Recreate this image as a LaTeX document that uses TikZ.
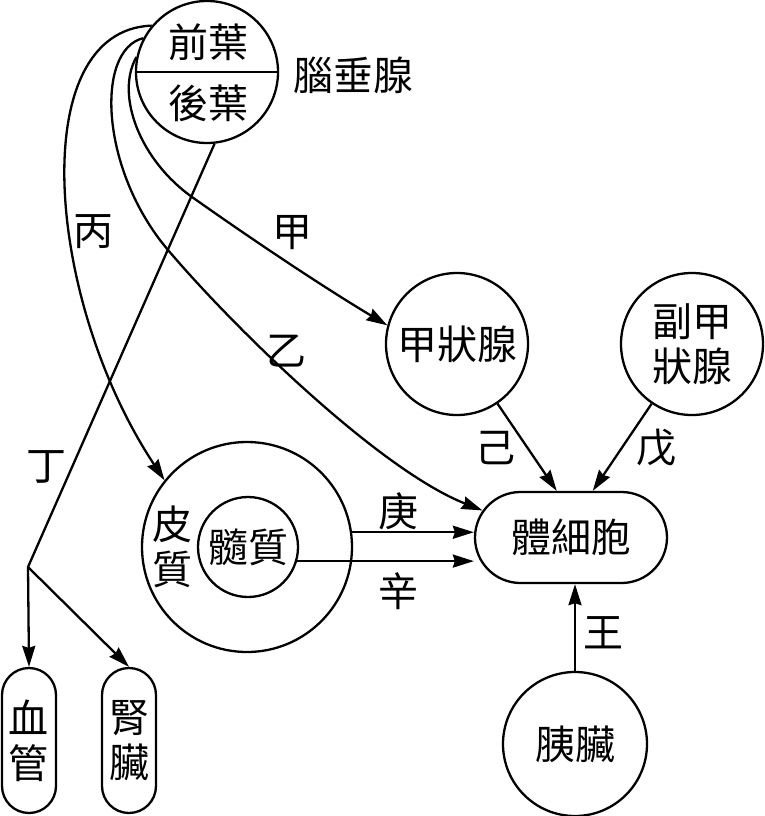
\documentclass[tikz,border=0pt]{standalone}
\usepackage{fontspec}
\newfontfamily\cjk{Noto Sans CJK TC}
\usetikzlibrary{arrows.meta,shapes.misc}
\begin{document}
\begin{tikzpicture}[x=1pt,y=-1pt,
  every node/.style={font=\cjk\fontsize{40}{45}\selectfont, inner sep=0pt},
  line width=2.3pt,
  organ/.style={draw, circle, minimum size=142pt, align=center},
  pill/.style={draw, rounded corners=27pt, minimum width=54pt, minimum height=145pt, align=center},
  arr/.style={-{Stealth[length=21pt,width=13pt,inset=2pt]}}]
\useasboundingbox (0,0) rectangle (764,816);
% nodes
\node[organ] (pit) at (207,72) {};
\draw (pit.west) -- (pit.east);
\node (ant) at (208,42) {前葉};
\node (post) at (208,103) {後葉};
\node (pitlbl) at (353,75) {腦垂腺};
\node[organ] (thy) at (457,344) {甲狀腺};
\node[organ] (para) at (692,344) {副甲\\狀腺};
\node[draw, rounded rectangle, minimum width=192pt, minimum height=91pt] (cell) at (571,537.5) {體細胞};
\node[draw, circle, minimum size=210pt] (adr) at (247,547) {};
\node[draw, circle, minimum size=100pt] (med) at (248,547) {髓質};
\node[align=center] (cortex) at (172,547) {皮\\質};
\node[organ, minimum size=144pt] (panc) at (575,744) {胰臟};
\node[pill] (vessel) at (29,740.5) {血\\管};
\node[pill] (kidney) at (129,740.5) {腎\\臟};
\coordinate (junc) at (28,567);
\coordinate (bmid) at (168,250);
\coordinate (amid) at (192,197);
% connectors
\draw[arr] (pit.140) .. controls (25,30) and (45,300) .. (adr.141);
\draw[arr] (pit.152) .. controls (95,50) and (100,170) .. (bmid) .. controls (236,330) and (380,470) .. (cell.163);
\draw[arr] (pit.168) .. controls (115,95) and (140,160) .. (amid) .. controls (250,238) and (320,285) .. (thy.165);
\draw (pit.-84) -- (junc);
\draw[arr] (junc) -- (vessel.north);
\draw[arr] (junc) -- (kidney.north);
\draw[arr] (thy) -- (cell.107);
\draw[arr] (para) -- (cell.65);
\draw[arr] (adr.8) -- (adr.8 -| cell.west);
\draw[arr] (med.-16) -- (med.-16 -| cell.west);
\draw[arr] (panc.north) -- (panc.north |- cell.south);
% labels
\node (l1) at (292,233) {甲};
\node (l2) at (286,351) {乙};
\node (l3) at (93,232) {丙};
\node (l4) at (46,467) {丁};
\node (l5) at (656,448) {戊};
\node (l6) at (495,448) {己};
\node (l7) at (398,511) {庚};
\node (l8) at (398,591) {辛};
\node (l9) at (603,633) {王};
\end{tikzpicture}
\end{document}
